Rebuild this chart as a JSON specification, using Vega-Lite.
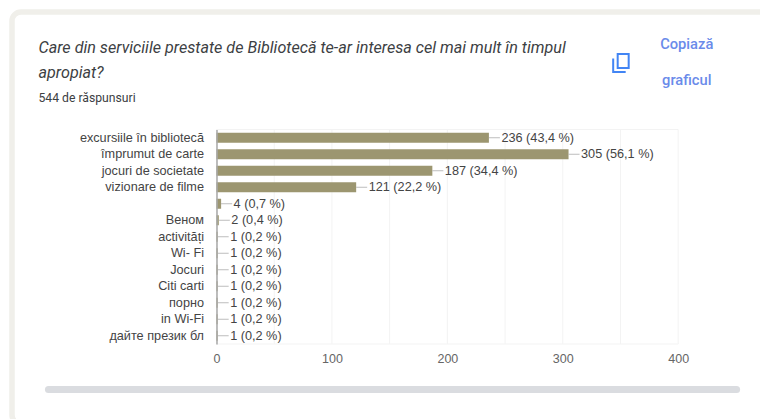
{
"$schema":"https://vega.github.io/schema/vega-lite/v6.json",
"width":760,"height":412,
"autosize":{"type":"none"},
"padding":{"left":12,"top":12,"right":-12,"bottom":-5},
"background":"#ffffff",
"view":{"fill":"#ffffff","stroke":"#f0efea","strokeWidth":5.5,"cornerRadius":9},
"title":{"text":["Care din serviciile prestate de Bibliotecă te-ar interesa cel mai mult în timpul","apropiat?"],
"subtitle":"544 de răspunsuri","orient":"top","anchor":"start","frame":"group","dx":26.5,"offset":-92,
"font":"Roboto","fontSize":16.15,"fontStyle":"italic","fontWeight":"normal","color":"#3c4043","lineHeight":24.5,
"subtitleFont":"Roboto","subtitleFontSize":12.2,"subtitleColor":"#3c4043","subtitlePadding":11},
"datasets":{
"answers":[
{"answer":"excursiile în bibliotecă","count":236,"label":"236 (43,4 %)"},
{"answer":"împrumut de carte","count":305,"label":"305 (56,1 %)"},
{"answer":"jocuri de societate","count":187,"label":"187 (34,4 %)"},
{"answer":"vizionare de filme","count":121,"label":"121 (22,2 %)"},
{"answer":" ","count":4,"label":"4 (0,7 %)"},
{"answer":"Веном","count":2,"label":"2 (0,4 %)"},
{"answer":"activități","count":1,"label":"1 (0,2 %)"},
{"answer":"Wi- Fi","count":1,"label":"1 (0,2 %)"},
{"answer":"Jocuri","count":1,"label":"1 (0,2 %)"},
{"answer":"Citi carti","count":1,"label":"1 (0,2 %)"},
{"answer":"порно","count":1,"label":"1 (0,2 %)"},
{"answer":"in Wi-Fi","count":1,"label":"1 (0,2 %)"},
{"answer":"дайте презик бл","count":1,"label":"1 (0,2 %)"}
],
"grid":[{"v":50},{"v":100},{"v":150},{"v":200},{"v":250},{"v":300},{"v":350}]
},
"resolve":{"scale":{"y":"independent"},"axis":{"x":"independent"}},
"layer":[
{"data":{"name":"grid"},"mark":{"type":"rule","color":"#f3f3f3","strokeWidth":1},
"encoding":{"x":{"field":"v","type":"quantitative","title":null,"scale":{"domain":[0,400],"range":[204.5,666.2],"nice":false,"zero":false,"clamp":false},
"axis":{"orient":"bottom","offset":-80,"values":[0,100,200,300,400],"grid":false,"ticks":false,"domain":false,"labelPadding":8,"labelFont":"Liberation Sans","labelFontSize":12.5,"labelColor":"#666666","labelOverlap":false,"labelBound":false,"labelFlush":false,"format":"d","zindex":1}},
"y":{"datum":0.2887,"type":"quantitative","scale":{"domain":[0,1],"range":[0,407]},"axis":null},"y2":{"datum":0.8157}}},
{"data":{"values":[{"part":"frame"}]},"mark":{"type":"rect","filled":false,"stroke":"#f3f3f3","strokeWidth":1},
"encoding":{"x":{"datum":0,"type":"quantitative","axis":null},"x2":{"datum":400},
"y":{"datum":0.2887,"type":"quantitative","scale":{"domain":[0,1],"range":[0,407]},"axis":null},"y2":{"datum":0.8157}}},
{"data":{"name":"answers"},"mark":{"type":"bar","color":"#9c9670","size":10},
"encoding":{
"y":{"field":"answer","type":"nominal","sort":null,"title":null,
"scale":{"type":"band","range":[117.5,332],"padding":0},
"axis":{"orient":"left","offset":-204.5,"ticks":false,"domain":true,"domainColor":"#a8a8a8","domainWidth":1.5,"labelPadding":13,"labelFont":"Liberation Sans","labelFontSize":12.7,"labelColor":"#444444","labelLimit":200,"zindex":1}},
"x":{"field":"count","type":"quantitative","title":null,"axis":null}}},
{"data":{"name":"answers"},"mark":{"type":"tick","orient":"horizontal","size":11,"thickness":1,"color":"#a0a0a0","xOffset":5.5},
"encoding":{"y":{"field":"answer","type":"nominal","sort":null,"title":null,"scale":{"type":"band","range":[117.5,332],"padding":0},"axis":null},
"x":{"field":"count","type":"quantitative","axis":null}}},
{"data":{"name":"answers"},"mark":{"type":"text","align":"left","baseline":"middle","dx":12.5,"font":"Liberation Sans","fontSize":12.7,"color":"#444444"},
"encoding":{"y":{"field":"answer","type":"nominal","sort":null,"title":null,"scale":{"type":"band","range":[117.5,332],"padding":0},"axis":null},
"x":{"field":"count","type":"quantitative","axis":null},"text":{"field":"label"}}},
{"data":{"values":[{"part":"scrollbar"}]},"mark":{"type":"rule","color":"#dadce0","strokeWidth":7,"strokeCap":"round"},
"encoding":{"x":{"datum":-145.6,"type":"quantitative","axis":null},"x2":{"datum":450.6},
"y":{"datum":0.9275,"type":"quantitative","scale":{"domain":[0,1],"range":[0,407]},"axis":null}}},
{"data":{"values":[{"word":"Copiază","xp":407.4,"yp":0.0823},{"word":"graficul","xp":407.4,"yp":0.1695}]},"mark":{"type":"text","align":"center","baseline":"middle","font":"Roboto","fontSize":14.7,"fontWeight":500,"color":"#6a8bea"},
"encoding":{"x":{"field":"xp","type":"quantitative","axis":null},
"y":{"field":"yp","type":"quantitative","scale":{"domain":[0,1],"range":[0,407]},"axis":null},"text":{"field":"word"}}},
{"data":{"values":[{"part":"copy icon"}]},"mark":{"type":"point","filled":false,"stroke":"#4285f4","strokeWidth":2,"opacity":1,"size":400,"shape":"M -0.35 -0.9 H 0.75 V 0.5 H -0.35 Z M -0.8 -0.45 V 0.9 H 0.45"},
"encoding":{"x":{"datum":350.6,"type":"quantitative","axis":null},
"y":{"datum":0.1253,"type":"quantitative","scale":{"domain":[0,1],"range":[0,407]},"axis":null}}}
]
}
